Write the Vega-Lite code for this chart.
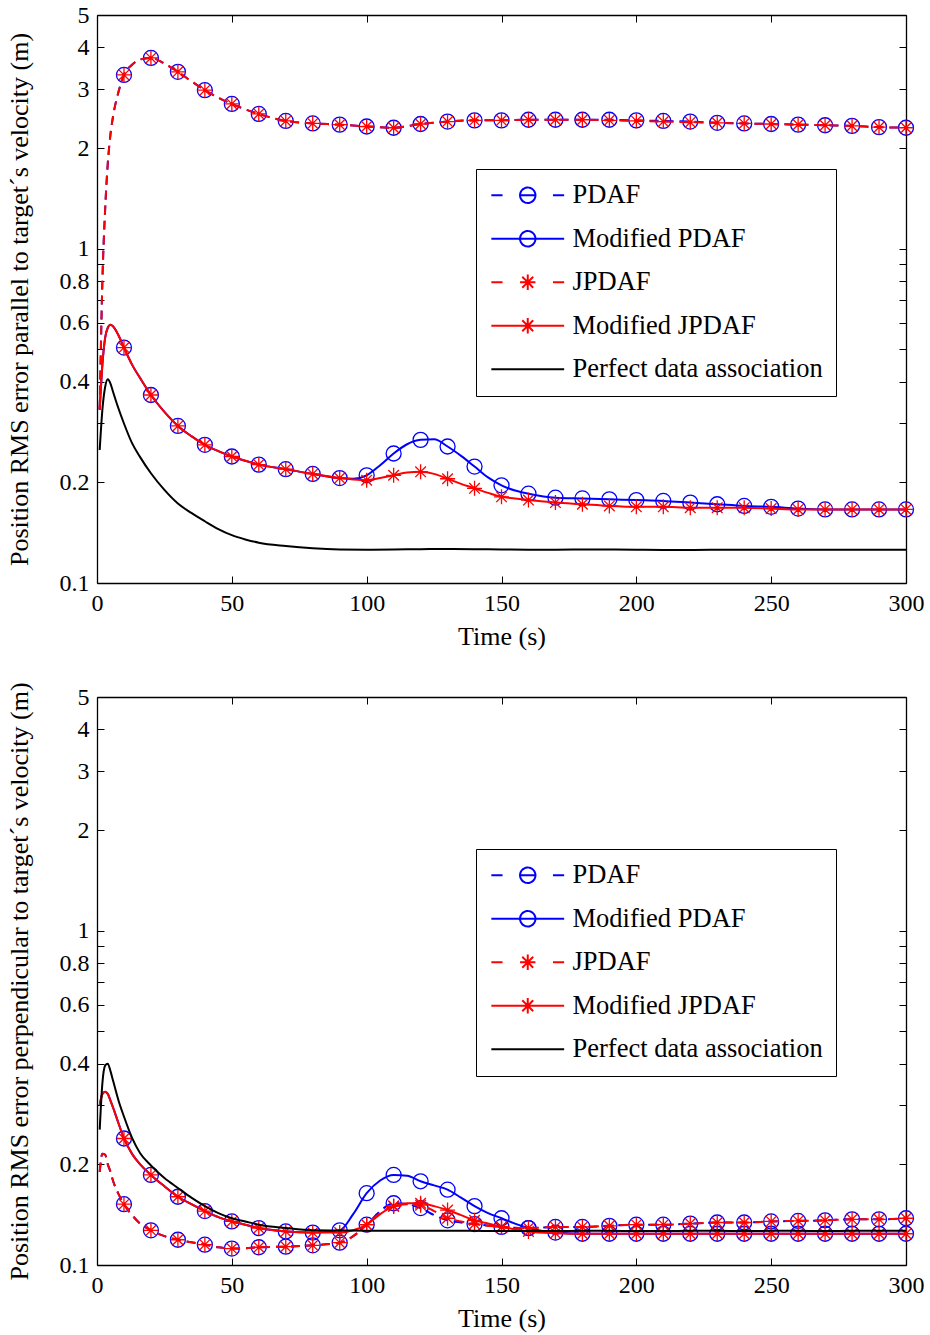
{
"$schema": "https://vega.github.io/schema/vega-lite/v6.json",
"padding": {"left": 6, "top": 3, "right": 5, "bottom": 5},
"spacing": 32,
"data": {"values": [
{"panel":"a","series":"PDAF","t":1,"rms":0.33},{"panel":"a","series":"PDAF","t":2,"rms":0.8},{"panel":"a","series":"PDAF","t":3,"rms":1.3},{"panel":"a","series":"PDAF","t":4,"rms":1.8},{"panel":"a","series":"PDAF","t":5,"rms":2.2},{"panel":"a","series":"PDAF","t":6,"rms":2.5},{"panel":"a","series":"PDAF","t":8,"rms":2.95},{"panel":"a","series":"PDAF","t":10,"rms":3.31},{"panel":"a","series":"PDAF","t":13,"rms":3.55},{"panel":"a","series":"PDAF","t":16,"rms":3.68},{"panel":"a","series":"PDAF","t":20,"rms":3.72},{"panel":"a","series":"PDAF","t":25,"rms":3.58},{"panel":"a","series":"PDAF","t":30,"rms":3.38},{"panel":"a","series":"PDAF","t":35,"rms":3.17},{"panel":"a","series":"PDAF","t":40,"rms":2.98},{"panel":"a","series":"PDAF","t":45,"rms":2.83},{"panel":"a","series":"PDAF","t":50,"rms":2.71},{"panel":"a","series":"PDAF","t":55,"rms":2.61},{"panel":"a","series":"PDAF","t":60,"rms":2.53},{"panel":"a","series":"PDAF","t":70,"rms":2.41},{"panel":"a","series":"PDAF","t":80,"rms":2.37},{"panel":"a","series":"PDAF","t":90,"rms":2.35},{"panel":"a","series":"PDAF","t":100,"rms":2.32},{"panel":"a","series":"PDAF","t":110,"rms":2.3},{"panel":"a","series":"PDAF","t":120,"rms":2.36},{"panel":"a","series":"PDAF","t":130,"rms":2.4},{"panel":"a","series":"PDAF","t":140,"rms":2.42},{"panel":"a","series":"PDAF","t":150,"rms":2.42},{"panel":"a","series":"PDAF","t":160,"rms":2.43},{"panel":"a","series":"PDAF","t":170,"rms":2.43},{"panel":"a","series":"PDAF","t":180,"rms":2.43},{"panel":"a","series":"PDAF","t":190,"rms":2.43},{"panel":"a","series":"PDAF","t":200,"rms":2.42},{"panel":"a","series":"PDAF","t":210,"rms":2.41},{"panel":"a","series":"PDAF","t":220,"rms":2.4},{"panel":"a","series":"PDAF","t":230,"rms":2.38},{"panel":"a","series":"PDAF","t":240,"rms":2.37},{"panel":"a","series":"PDAF","t":250,"rms":2.36},{"panel":"a","series":"PDAF","t":260,"rms":2.35},{"panel":"a","series":"PDAF","t":270,"rms":2.34},{"panel":"a","series":"PDAF","t":280,"rms":2.33},{"panel":"a","series":"PDAF","t":290,"rms":2.31},{"panel":"a","series":"PDAF","t":300,"rms":2.3},
{"panel":"a","series":"JPDAF","t":1,"rms":0.33},{"panel":"a","series":"JPDAF","t":2,"rms":0.8},{"panel":"a","series":"JPDAF","t":3,"rms":1.3},{"panel":"a","series":"JPDAF","t":4,"rms":1.8},{"panel":"a","series":"JPDAF","t":5,"rms":2.2},{"panel":"a","series":"JPDAF","t":6,"rms":2.5},{"panel":"a","series":"JPDAF","t":8,"rms":2.95},{"panel":"a","series":"JPDAF","t":10,"rms":3.31},{"panel":"a","series":"JPDAF","t":13,"rms":3.55},{"panel":"a","series":"JPDAF","t":16,"rms":3.68},{"panel":"a","series":"JPDAF","t":20,"rms":3.72},{"panel":"a","series":"JPDAF","t":25,"rms":3.58},{"panel":"a","series":"JPDAF","t":30,"rms":3.38},{"panel":"a","series":"JPDAF","t":35,"rms":3.17},{"panel":"a","series":"JPDAF","t":40,"rms":2.98},{"panel":"a","series":"JPDAF","t":45,"rms":2.83},{"panel":"a","series":"JPDAF","t":50,"rms":2.71},{"panel":"a","series":"JPDAF","t":55,"rms":2.61},{"panel":"a","series":"JPDAF","t":60,"rms":2.53},{"panel":"a","series":"JPDAF","t":70,"rms":2.41},{"panel":"a","series":"JPDAF","t":80,"rms":2.37},{"panel":"a","series":"JPDAF","t":90,"rms":2.35},{"panel":"a","series":"JPDAF","t":100,"rms":2.32},{"panel":"a","series":"JPDAF","t":110,"rms":2.3},{"panel":"a","series":"JPDAF","t":120,"rms":2.36},{"panel":"a","series":"JPDAF","t":130,"rms":2.4},{"panel":"a","series":"JPDAF","t":140,"rms":2.42},{"panel":"a","series":"JPDAF","t":150,"rms":2.42},{"panel":"a","series":"JPDAF","t":160,"rms":2.43},{"panel":"a","series":"JPDAF","t":170,"rms":2.43},{"panel":"a","series":"JPDAF","t":180,"rms":2.43},{"panel":"a","series":"JPDAF","t":190,"rms":2.42},{"panel":"a","series":"JPDAF","t":200,"rms":2.41},{"panel":"a","series":"JPDAF","t":210,"rms":2.4},{"panel":"a","series":"JPDAF","t":220,"rms":2.39},{"panel":"a","series":"JPDAF","t":230,"rms":2.38},{"panel":"a","series":"JPDAF","t":240,"rms":2.37},{"panel":"a","series":"JPDAF","t":250,"rms":2.36},{"panel":"a","series":"JPDAF","t":260,"rms":2.35},{"panel":"a","series":"JPDAF","t":270,"rms":2.34},{"panel":"a","series":"JPDAF","t":280,"rms":2.33},{"panel":"a","series":"JPDAF","t":290,"rms":2.31},{"panel":"a","series":"JPDAF","t":300,"rms":2.3},
{"panel":"a","series":"Modified PDAF","t":1,"rms":0.33},{"panel":"a","series":"Modified PDAF","t":2,"rms":0.45},{"panel":"a","series":"Modified PDAF","t":3,"rms":0.54},{"panel":"a","series":"Modified PDAF","t":4,"rms":0.58},{"panel":"a","series":"Modified PDAF","t":5,"rms":0.592},{"panel":"a","series":"Modified PDAF","t":6,"rms":0.585},{"panel":"a","series":"Modified PDAF","t":8,"rms":0.55},{"panel":"a","series":"Modified PDAF","t":10,"rms":0.506},{"panel":"a","series":"Modified PDAF","t":13,"rms":0.45},{"panel":"a","series":"Modified PDAF","t":16,"rms":0.41},{"panel":"a","series":"Modified PDAF","t":20,"rms":0.365},{"panel":"a","series":"Modified PDAF","t":25,"rms":0.325},{"panel":"a","series":"Modified PDAF","t":30,"rms":0.295},{"panel":"a","series":"Modified PDAF","t":35,"rms":0.275},{"panel":"a","series":"Modified PDAF","t":40,"rms":0.259},{"panel":"a","series":"Modified PDAF","t":45,"rms":0.248},{"panel":"a","series":"Modified PDAF","t":50,"rms":0.239},{"panel":"a","series":"Modified PDAF","t":55,"rms":0.232},{"panel":"a","series":"Modified PDAF","t":60,"rms":0.226},{"panel":"a","series":"Modified PDAF","t":70,"rms":0.219},{"panel":"a","series":"Modified PDAF","t":80,"rms":0.212},{"panel":"a","series":"Modified PDAF","t":90,"rms":0.206},{"panel":"a","series":"Modified PDAF","t":95,"rms":0.205},{"panel":"a","series":"Modified PDAF","t":100,"rms":0.21},{"panel":"a","series":"Modified PDAF","t":105,"rms":0.225},{"panel":"a","series":"Modified PDAF","t":110,"rms":0.244},{"panel":"a","series":"Modified PDAF","t":115,"rms":0.26},{"panel":"a","series":"Modified PDAF","t":120,"rms":0.268},{"panel":"a","series":"Modified PDAF","t":125,"rms":0.269},{"panel":"a","series":"Modified PDAF","t":130,"rms":0.256},{"panel":"a","series":"Modified PDAF","t":135,"rms":0.24},{"panel":"a","series":"Modified PDAF","t":140,"rms":0.223},{"panel":"a","series":"Modified PDAF","t":145,"rms":0.207},{"panel":"a","series":"Modified PDAF","t":150,"rms":0.196},{"panel":"a","series":"Modified PDAF","t":155,"rms":0.189},{"panel":"a","series":"Modified PDAF","t":160,"rms":0.185},{"panel":"a","series":"Modified PDAF","t":170,"rms":0.18},{"panel":"a","series":"Modified PDAF","t":180,"rms":0.179},{"panel":"a","series":"Modified PDAF","t":190,"rms":0.178},{"panel":"a","series":"Modified PDAF","t":200,"rms":0.177},{"panel":"a","series":"Modified PDAF","t":210,"rms":0.176},{"panel":"a","series":"Modified PDAF","t":220,"rms":0.174},{"panel":"a","series":"Modified PDAF","t":230,"rms":0.172},{"panel":"a","series":"Modified PDAF","t":240,"rms":0.17},{"panel":"a","series":"Modified PDAF","t":250,"rms":0.169},{"panel":"a","series":"Modified PDAF","t":260,"rms":0.167},{"panel":"a","series":"Modified PDAF","t":270,"rms":0.166},{"panel":"a","series":"Modified PDAF","t":280,"rms":0.166},{"panel":"a","series":"Modified PDAF","t":290,"rms":0.166},{"panel":"a","series":"Modified PDAF","t":300,"rms":0.166},
{"panel":"a","series":"Modified JPDAF","t":1,"rms":0.33},{"panel":"a","series":"Modified JPDAF","t":2,"rms":0.45},{"panel":"a","series":"Modified JPDAF","t":3,"rms":0.54},{"panel":"a","series":"Modified JPDAF","t":4,"rms":0.58},{"panel":"a","series":"Modified JPDAF","t":5,"rms":0.592},{"panel":"a","series":"Modified JPDAF","t":6,"rms":0.585},{"panel":"a","series":"Modified JPDAF","t":8,"rms":0.55},{"panel":"a","series":"Modified JPDAF","t":10,"rms":0.506},{"panel":"a","series":"Modified JPDAF","t":13,"rms":0.45},{"panel":"a","series":"Modified JPDAF","t":16,"rms":0.41},{"panel":"a","series":"Modified JPDAF","t":20,"rms":0.365},{"panel":"a","series":"Modified JPDAF","t":25,"rms":0.325},{"panel":"a","series":"Modified JPDAF","t":30,"rms":0.295},{"panel":"a","series":"Modified JPDAF","t":35,"rms":0.275},{"panel":"a","series":"Modified JPDAF","t":40,"rms":0.259},{"panel":"a","series":"Modified JPDAF","t":45,"rms":0.248},{"panel":"a","series":"Modified JPDAF","t":50,"rms":0.239},{"panel":"a","series":"Modified JPDAF","t":55,"rms":0.232},{"panel":"a","series":"Modified JPDAF","t":60,"rms":0.226},{"panel":"a","series":"Modified JPDAF","t":70,"rms":0.219},{"panel":"a","series":"Modified JPDAF","t":80,"rms":0.212},{"panel":"a","series":"Modified JPDAF","t":90,"rms":0.206},{"panel":"a","series":"Modified JPDAF","t":95,"rms":0.204},{"panel":"a","series":"Modified JPDAF","t":100,"rms":0.203},{"panel":"a","series":"Modified JPDAF","t":105,"rms":0.206},{"panel":"a","series":"Modified JPDAF","t":110,"rms":0.21},{"panel":"a","series":"Modified JPDAF","t":115,"rms":0.214},{"panel":"a","series":"Modified JPDAF","t":120,"rms":0.215},{"panel":"a","series":"Modified JPDAF","t":125,"rms":0.212},{"panel":"a","series":"Modified JPDAF","t":130,"rms":0.205},{"panel":"a","series":"Modified JPDAF","t":135,"rms":0.198},{"panel":"a","series":"Modified JPDAF","t":140,"rms":0.192},{"panel":"a","series":"Modified JPDAF","t":145,"rms":0.186},{"panel":"a","series":"Modified JPDAF","t":150,"rms":0.181},{"panel":"a","series":"Modified JPDAF","t":155,"rms":0.179},{"panel":"a","series":"Modified JPDAF","t":160,"rms":0.177},{"panel":"a","series":"Modified JPDAF","t":170,"rms":0.174},{"panel":"a","series":"Modified JPDAF","t":180,"rms":0.172},{"panel":"a","series":"Modified JPDAF","t":190,"rms":0.17},{"panel":"a","series":"Modified JPDAF","t":200,"rms":0.169},{"panel":"a","series":"Modified JPDAF","t":210,"rms":0.169},{"panel":"a","series":"Modified JPDAF","t":220,"rms":0.168},{"panel":"a","series":"Modified JPDAF","t":230,"rms":0.168},{"panel":"a","series":"Modified JPDAF","t":240,"rms":0.168},{"panel":"a","series":"Modified JPDAF","t":250,"rms":0.167},{"panel":"a","series":"Modified JPDAF","t":260,"rms":0.166},{"panel":"a","series":"Modified JPDAF","t":270,"rms":0.166},{"panel":"a","series":"Modified JPDAF","t":280,"rms":0.166},{"panel":"a","series":"Modified JPDAF","t":290,"rms":0.166},{"panel":"a","series":"Modified JPDAF","t":300,"rms":0.166},
{"panel":"a","series":"Perfect data association","t":1,"rms":0.25},{"panel":"a","series":"Perfect data association","t":2,"rms":0.33},{"panel":"a","series":"Perfect data association","t":3,"rms":0.385},{"panel":"a","series":"Perfect data association","t":4,"rms":0.407},{"panel":"a","series":"Perfect data association","t":5,"rms":0.395},{"panel":"a","series":"Perfect data association","t":6,"rms":0.372},{"panel":"a","series":"Perfect data association","t":8,"rms":0.332},{"panel":"a","series":"Perfect data association","t":10,"rms":0.3},{"panel":"a","series":"Perfect data association","t":13,"rms":0.262},{"panel":"a","series":"Perfect data association","t":16,"rms":0.238},{"panel":"a","series":"Perfect data association","t":20,"rms":0.213},{"panel":"a","series":"Perfect data association","t":25,"rms":0.19},{"panel":"a","series":"Perfect data association","t":30,"rms":0.173},{"panel":"a","series":"Perfect data association","t":35,"rms":0.162},{"panel":"a","series":"Perfect data association","t":40,"rms":0.153},{"panel":"a","series":"Perfect data association","t":45,"rms":0.145},{"panel":"a","series":"Perfect data association","t":50,"rms":0.139},{"panel":"a","series":"Perfect data association","t":55,"rms":0.135},{"panel":"a","series":"Perfect data association","t":60,"rms":0.132},{"panel":"a","series":"Perfect data association","t":70,"rms":0.129},{"panel":"a","series":"Perfect data association","t":80,"rms":0.127},{"panel":"a","series":"Perfect data association","t":90,"rms":0.126},{"panel":"a","series":"Perfect data association","t":100,"rms":0.1258},{"panel":"a","series":"Perfect data association","t":110,"rms":0.126},{"panel":"a","series":"Perfect data association","t":120,"rms":0.1262},{"panel":"a","series":"Perfect data association","t":130,"rms":0.1264},{"panel":"a","series":"Perfect data association","t":140,"rms":0.1262},{"panel":"a","series":"Perfect data association","t":150,"rms":0.126},{"panel":"a","series":"Perfect data association","t":160,"rms":0.1258},{"panel":"a","series":"Perfect data association","t":170,"rms":0.1258},{"panel":"a","series":"Perfect data association","t":180,"rms":0.1259},{"panel":"a","series":"Perfect data association","t":190,"rms":0.126},{"panel":"a","series":"Perfect data association","t":200,"rms":0.1258},{"panel":"a","series":"Perfect data association","t":210,"rms":0.1256},{"panel":"a","series":"Perfect data association","t":220,"rms":0.1255},{"panel":"a","series":"Perfect data association","t":230,"rms":0.1257},{"panel":"a","series":"Perfect data association","t":240,"rms":0.1258},{"panel":"a","series":"Perfect data association","t":250,"rms":0.1257},{"panel":"a","series":"Perfect data association","t":260,"rms":0.1258},{"panel":"a","series":"Perfect data association","t":270,"rms":0.1257},{"panel":"a","series":"Perfect data association","t":280,"rms":0.1258},{"panel":"a","series":"Perfect data association","t":290,"rms":0.1258},{"panel":"a","series":"Perfect data association","t":300,"rms":0.1258},
{"panel":"b","series":"PDAF","t":1,"rms":0.19},{"panel":"b","series":"PDAF","t":2,"rms":0.215},{"panel":"b","series":"PDAF","t":3,"rms":0.214},{"panel":"b","series":"PDAF","t":4,"rms":0.2},{"panel":"b","series":"PDAF","t":5,"rms":0.19},{"panel":"b","series":"PDAF","t":6,"rms":0.178},{"panel":"b","series":"PDAF","t":8,"rms":0.163},{"panel":"b","series":"PDAF","t":10,"rms":0.152},{"panel":"b","series":"PDAF","t":13,"rms":0.141},{"panel":"b","series":"PDAF","t":16,"rms":0.133},{"panel":"b","series":"PDAF","t":20,"rms":0.127},{"panel":"b","series":"PDAF","t":25,"rms":0.122},{"panel":"b","series":"PDAF","t":30,"rms":0.119},{"panel":"b","series":"PDAF","t":35,"rms":0.117},{"panel":"b","series":"PDAF","t":40,"rms":0.115},{"panel":"b","series":"PDAF","t":45,"rms":0.113},{"panel":"b","series":"PDAF","t":50,"rms":0.112},{"panel":"b","series":"PDAF","t":55,"rms":0.1122},{"panel":"b","series":"PDAF","t":60,"rms":0.113},{"panel":"b","series":"PDAF","t":70,"rms":0.1135},{"panel":"b","series":"PDAF","t":80,"rms":0.1145},{"panel":"b","series":"PDAF","t":90,"rms":0.1166},{"panel":"b","series":"PDAF","t":95,"rms":0.122},{"panel":"b","series":"PDAF","t":100,"rms":0.132},{"panel":"b","series":"PDAF","t":105,"rms":0.145},{"panel":"b","series":"PDAF","t":110,"rms":0.153},{"panel":"b","series":"PDAF","t":115,"rms":0.152},{"panel":"b","series":"PDAF","t":120,"rms":0.148},{"panel":"b","series":"PDAF","t":125,"rms":0.141},{"panel":"b","series":"PDAF","t":130,"rms":0.136},{"panel":"b","series":"PDAF","t":135,"rms":0.134},{"panel":"b","series":"PDAF","t":140,"rms":0.1326},{"panel":"b","series":"PDAF","t":150,"rms":0.13},{"panel":"b","series":"PDAF","t":160,"rms":0.129},{"panel":"b","series":"PDAF","t":170,"rms":0.13},{"panel":"b","series":"PDAF","t":180,"rms":0.13},{"panel":"b","series":"PDAF","t":190,"rms":0.131},{"panel":"b","series":"PDAF","t":200,"rms":0.132},{"panel":"b","series":"PDAF","t":210,"rms":0.132},{"panel":"b","series":"PDAF","t":220,"rms":0.133},{"panel":"b","series":"PDAF","t":230,"rms":0.134},{"panel":"b","series":"PDAF","t":240,"rms":0.134},{"panel":"b","series":"PDAF","t":250,"rms":0.135},{"panel":"b","series":"PDAF","t":260,"rms":0.1355},{"panel":"b","series":"PDAF","t":270,"rms":0.136},{"panel":"b","series":"PDAF","t":280,"rms":0.137},{"panel":"b","series":"PDAF","t":290,"rms":0.137},{"panel":"b","series":"PDAF","t":300,"rms":0.138},
{"panel":"b","series":"JPDAF","t":1,"rms":0.19},{"panel":"b","series":"JPDAF","t":2,"rms":0.215},{"panel":"b","series":"JPDAF","t":3,"rms":0.214},{"panel":"b","series":"JPDAF","t":4,"rms":0.2},{"panel":"b","series":"JPDAF","t":5,"rms":0.19},{"panel":"b","series":"JPDAF","t":6,"rms":0.178},{"panel":"b","series":"JPDAF","t":8,"rms":0.163},{"panel":"b","series":"JPDAF","t":10,"rms":0.152},{"panel":"b","series":"JPDAF","t":13,"rms":0.141},{"panel":"b","series":"JPDAF","t":16,"rms":0.133},{"panel":"b","series":"JPDAF","t":20,"rms":0.127},{"panel":"b","series":"JPDAF","t":25,"rms":0.122},{"panel":"b","series":"JPDAF","t":30,"rms":0.119},{"panel":"b","series":"JPDAF","t":35,"rms":0.117},{"panel":"b","series":"JPDAF","t":40,"rms":0.115},{"panel":"b","series":"JPDAF","t":45,"rms":0.113},{"panel":"b","series":"JPDAF","t":50,"rms":0.112},{"panel":"b","series":"JPDAF","t":55,"rms":0.1122},{"panel":"b","series":"JPDAF","t":60,"rms":0.113},{"panel":"b","series":"JPDAF","t":70,"rms":0.1135},{"panel":"b","series":"JPDAF","t":80,"rms":0.1145},{"panel":"b","series":"JPDAF","t":90,"rms":0.1166},{"panel":"b","series":"JPDAF","t":95,"rms":0.122},{"panel":"b","series":"JPDAF","t":100,"rms":0.132},{"panel":"b","series":"JPDAF","t":105,"rms":0.143},{"panel":"b","series":"JPDAF","t":110,"rms":0.15},{"panel":"b","series":"JPDAF","t":115,"rms":0.152},{"panel":"b","series":"JPDAF","t":120,"rms":0.151},{"panel":"b","series":"JPDAF","t":125,"rms":0.145},{"panel":"b","series":"JPDAF","t":130,"rms":0.138},{"panel":"b","series":"JPDAF","t":135,"rms":0.135},{"panel":"b","series":"JPDAF","t":140,"rms":0.1326},{"panel":"b","series":"JPDAF","t":150,"rms":0.13},{"panel":"b","series":"JPDAF","t":160,"rms":0.129},{"panel":"b","series":"JPDAF","t":170,"rms":0.13},{"panel":"b","series":"JPDAF","t":180,"rms":0.13},{"panel":"b","series":"JPDAF","t":190,"rms":0.131},{"panel":"b","series":"JPDAF","t":200,"rms":0.132},{"panel":"b","series":"JPDAF","t":210,"rms":0.132},{"panel":"b","series":"JPDAF","t":220,"rms":0.133},{"panel":"b","series":"JPDAF","t":230,"rms":0.134},{"panel":"b","series":"JPDAF","t":240,"rms":0.134},{"panel":"b","series":"JPDAF","t":250,"rms":0.135},{"panel":"b","series":"JPDAF","t":260,"rms":0.1355},{"panel":"b","series":"JPDAF","t":270,"rms":0.136},{"panel":"b","series":"JPDAF","t":280,"rms":0.137},{"panel":"b","series":"JPDAF","t":290,"rms":0.137},{"panel":"b","series":"JPDAF","t":300,"rms":0.138},
{"panel":"b","series":"Modified PDAF","t":1,"rms":0.3},{"panel":"b","series":"Modified PDAF","t":2,"rms":0.325},{"panel":"b","series":"Modified PDAF","t":3,"rms":0.33},{"panel":"b","series":"Modified PDAF","t":4,"rms":0.325},{"panel":"b","series":"Modified PDAF","t":5,"rms":0.31},{"panel":"b","series":"Modified PDAF","t":6,"rms":0.295},{"panel":"b","series":"Modified PDAF","t":8,"rms":0.265},{"panel":"b","series":"Modified PDAF","t":10,"rms":0.239},{"panel":"b","series":"Modified PDAF","t":13,"rms":0.215},{"panel":"b","series":"Modified PDAF","t":16,"rms":0.2},{"panel":"b","series":"Modified PDAF","t":20,"rms":0.186},{"panel":"b","series":"Modified PDAF","t":25,"rms":0.172},{"panel":"b","series":"Modified PDAF","t":30,"rms":0.16},{"panel":"b","series":"Modified PDAF","t":35,"rms":0.152},{"panel":"b","series":"Modified PDAF","t":40,"rms":0.145},{"panel":"b","series":"Modified PDAF","t":45,"rms":0.139},{"panel":"b","series":"Modified PDAF","t":50,"rms":0.135},{"panel":"b","series":"Modified PDAF","t":55,"rms":0.132},{"panel":"b","series":"Modified PDAF","t":60,"rms":0.129},{"panel":"b","series":"Modified PDAF","t":70,"rms":0.126},{"panel":"b","series":"Modified PDAF","t":80,"rms":0.125},{"panel":"b","series":"Modified PDAF","t":90,"rms":0.127},{"panel":"b","series":"Modified PDAF","t":95,"rms":0.142},{"panel":"b","series":"Modified PDAF","t":100,"rms":0.164},{"panel":"b","series":"Modified PDAF","t":105,"rms":0.179},{"panel":"b","series":"Modified PDAF","t":110,"rms":0.186},{"panel":"b","series":"Modified PDAF","t":115,"rms":0.185},{"panel":"b","series":"Modified PDAF","t":120,"rms":0.178},{"panel":"b","series":"Modified PDAF","t":125,"rms":0.173},{"panel":"b","series":"Modified PDAF","t":130,"rms":0.168},{"panel":"b","series":"Modified PDAF","t":135,"rms":0.159},{"panel":"b","series":"Modified PDAF","t":140,"rms":0.15},{"panel":"b","series":"Modified PDAF","t":145,"rms":0.143},{"panel":"b","series":"Modified PDAF","t":150,"rms":0.138},{"panel":"b","series":"Modified PDAF","t":155,"rms":0.133},{"panel":"b","series":"Modified PDAF","t":160,"rms":0.129},{"panel":"b","series":"Modified PDAF","t":170,"rms":0.125},{"panel":"b","series":"Modified PDAF","t":180,"rms":0.124},{"panel":"b","series":"Modified PDAF","t":190,"rms":0.124},{"panel":"b","series":"Modified PDAF","t":200,"rms":0.124},{"panel":"b","series":"Modified PDAF","t":210,"rms":0.124},{"panel":"b","series":"Modified PDAF","t":220,"rms":0.124},{"panel":"b","series":"Modified PDAF","t":230,"rms":0.124},{"panel":"b","series":"Modified PDAF","t":240,"rms":0.124},{"panel":"b","series":"Modified PDAF","t":250,"rms":0.124},{"panel":"b","series":"Modified PDAF","t":260,"rms":0.124},{"panel":"b","series":"Modified PDAF","t":270,"rms":0.124},{"panel":"b","series":"Modified PDAF","t":280,"rms":0.124},{"panel":"b","series":"Modified PDAF","t":290,"rms":0.124},{"panel":"b","series":"Modified PDAF","t":300,"rms":0.124},
{"panel":"b","series":"Modified JPDAF","t":1,"rms":0.3},{"panel":"b","series":"Modified JPDAF","t":2,"rms":0.325},{"panel":"b","series":"Modified JPDAF","t":3,"rms":0.33},{"panel":"b","series":"Modified JPDAF","t":4,"rms":0.325},{"panel":"b","series":"Modified JPDAF","t":5,"rms":0.31},{"panel":"b","series":"Modified JPDAF","t":6,"rms":0.295},{"panel":"b","series":"Modified JPDAF","t":8,"rms":0.265},{"panel":"b","series":"Modified JPDAF","t":10,"rms":0.239},{"panel":"b","series":"Modified JPDAF","t":13,"rms":0.215},{"panel":"b","series":"Modified JPDAF","t":16,"rms":0.2},{"panel":"b","series":"Modified JPDAF","t":20,"rms":0.186},{"panel":"b","series":"Modified JPDAF","t":25,"rms":0.172},{"panel":"b","series":"Modified JPDAF","t":30,"rms":0.16},{"panel":"b","series":"Modified JPDAF","t":35,"rms":0.152},{"panel":"b","series":"Modified JPDAF","t":40,"rms":0.145},{"panel":"b","series":"Modified JPDAF","t":45,"rms":0.139},{"panel":"b","series":"Modified JPDAF","t":50,"rms":0.135},{"panel":"b","series":"Modified JPDAF","t":55,"rms":0.132},{"panel":"b","series":"Modified JPDAF","t":60,"rms":0.129},{"panel":"b","series":"Modified JPDAF","t":70,"rms":0.126},{"panel":"b","series":"Modified JPDAF","t":80,"rms":0.125},{"panel":"b","series":"Modified JPDAF","t":90,"rms":0.125},{"panel":"b","series":"Modified JPDAF","t":95,"rms":0.127},{"panel":"b","series":"Modified JPDAF","t":100,"rms":0.132},{"panel":"b","series":"Modified JPDAF","t":105,"rms":0.142},{"panel":"b","series":"Modified JPDAF","t":110,"rms":0.15},{"panel":"b","series":"Modified JPDAF","t":115,"rms":0.153},{"panel":"b","series":"Modified JPDAF","t":120,"rms":0.153},{"panel":"b","series":"Modified JPDAF","t":125,"rms":0.15},{"panel":"b","series":"Modified JPDAF","t":130,"rms":0.146},{"panel":"b","series":"Modified JPDAF","t":135,"rms":0.141},{"panel":"b","series":"Modified JPDAF","t":140,"rms":0.136},{"panel":"b","series":"Modified JPDAF","t":145,"rms":0.133},{"panel":"b","series":"Modified JPDAF","t":150,"rms":0.13},{"panel":"b","series":"Modified JPDAF","t":155,"rms":0.128},{"panel":"b","series":"Modified JPDAF","t":160,"rms":0.126},{"panel":"b","series":"Modified JPDAF","t":170,"rms":0.1245},{"panel":"b","series":"Modified JPDAF","t":180,"rms":0.124},{"panel":"b","series":"Modified JPDAF","t":190,"rms":0.124},{"panel":"b","series":"Modified JPDAF","t":200,"rms":0.124},{"panel":"b","series":"Modified JPDAF","t":210,"rms":0.124},{"panel":"b","series":"Modified JPDAF","t":220,"rms":0.124},{"panel":"b","series":"Modified JPDAF","t":230,"rms":0.124},{"panel":"b","series":"Modified JPDAF","t":240,"rms":0.124},{"panel":"b","series":"Modified JPDAF","t":250,"rms":0.124},{"panel":"b","series":"Modified JPDAF","t":260,"rms":0.124},{"panel":"b","series":"Modified JPDAF","t":270,"rms":0.124},{"panel":"b","series":"Modified JPDAF","t":280,"rms":0.124},{"panel":"b","series":"Modified JPDAF","t":290,"rms":0.124},{"panel":"b","series":"Modified JPDAF","t":300,"rms":0.124},
{"panel":"b","series":"Perfect data association","t":1,"rms":0.254},{"panel":"b","series":"Perfect data association","t":2,"rms":0.35},{"panel":"b","series":"Perfect data association","t":3,"rms":0.395},{"panel":"b","series":"Perfect data association","t":4,"rms":0.4},{"panel":"b","series":"Perfect data association","t":5,"rms":0.38},{"panel":"b","series":"Perfect data association","t":6,"rms":0.355},{"panel":"b","series":"Perfect data association","t":8,"rms":0.31},{"panel":"b","series":"Perfect data association","t":10,"rms":0.278},{"panel":"b","series":"Perfect data association","t":13,"rms":0.24},{"panel":"b","series":"Perfect data association","t":16,"rms":0.216},{"panel":"b","series":"Perfect data association","t":20,"rms":0.1985},{"panel":"b","series":"Perfect data association","t":25,"rms":0.182},{"panel":"b","series":"Perfect data association","t":30,"rms":0.17},{"panel":"b","series":"Perfect data association","t":35,"rms":0.159},{"panel":"b","series":"Perfect data association","t":40,"rms":0.15},{"panel":"b","series":"Perfect data association","t":45,"rms":0.143},{"panel":"b","series":"Perfect data association","t":50,"rms":0.138},{"panel":"b","series":"Perfect data association","t":55,"rms":0.135},{"panel":"b","series":"Perfect data association","t":60,"rms":0.132},{"panel":"b","series":"Perfect data association","t":70,"rms":0.129},{"panel":"b","series":"Perfect data association","t":80,"rms":0.127},{"panel":"b","series":"Perfect data association","t":90,"rms":0.1268},{"panel":"b","series":"Perfect data association","t":100,"rms":0.1266},{"panel":"b","series":"Perfect data association","t":110,"rms":0.1265},{"panel":"b","series":"Perfect data association","t":120,"rms":0.1266},{"panel":"b","series":"Perfect data association","t":130,"rms":0.1266},{"panel":"b","series":"Perfect data association","t":140,"rms":0.1265},{"panel":"b","series":"Perfect data association","t":150,"rms":0.1264},{"panel":"b","series":"Perfect data association","t":160,"rms":0.1264},{"panel":"b","series":"Perfect data association","t":170,"rms":0.1264},{"panel":"b","series":"Perfect data association","t":180,"rms":0.1265},{"panel":"b","series":"Perfect data association","t":190,"rms":0.1265},{"panel":"b","series":"Perfect data association","t":200,"rms":0.1264},{"panel":"b","series":"Perfect data association","t":210,"rms":0.1264},{"panel":"b","series":"Perfect data association","t":220,"rms":0.1265},{"panel":"b","series":"Perfect data association","t":230,"rms":0.1265},{"panel":"b","series":"Perfect data association","t":240,"rms":0.1264},{"panel":"b","series":"Perfect data association","t":250,"rms":0.1265},{"panel":"b","series":"Perfect data association","t":260,"rms":0.1265},{"panel":"b","series":"Perfect data association","t":270,"rms":0.1264},{"panel":"b","series":"Perfect data association","t":280,"rms":0.1265},{"panel":"b","series":"Perfect data association","t":290,"rms":0.1265},{"panel":"b","series":"Perfect data association","t":300,"rms":0.1265}
]},
"vconcat": [
{
 "width": 809, "height": 568,
 "transform": [{"filter": "datum.panel == 'a'"}],
 "encoding": {
  "x": {"field": "t", "type": "quantitative", "scale": {"domain": [0, 300], "nice": false, "zero": false}, "axis": null},
  "y": {"field": "rms", "type": "quantitative", "scale": {"type": "log", "domain": [0.1, 5], "nice": false}, "axis": null},
  "color": {"field": "series", "type": "nominal",
   "scale": {"domain": ["PDAF", "Modified PDAF", "JPDAF", "Modified JPDAF", "Perfect data association"], "range": ["#0000ff", "#0000ff", "#ff0000", "#ff0000", "#000000"]},
   "legend": {"orient": "none", "legendX": 379, "legendY": 154, "title": null, "strokeColor": "black", "fillColor": "white", "padding": 13,
    "symbolSize": 196, "symbolStrokeWidth": 2, "symbolOffset": 25.5, "labelOffset": 31.5, "rowPadding": 16.5,
    "labelFont": "Liberation Serif", "labelFontSize": 26.5, "labelColor": "black", "labelLimit": 400,
    "encode": {"symbols": {"update": {
      "shape": {"signal": "datum.value == 'PDAF' ? 'M-5.2,0H-3.6M3.6,0H5.2M-1.1,0H1.1M-1.1,0A1.1,1.1 0 1,0 1.1,0A1.1,1.1 0 1,0 -1.1,0' : datum.value == 'Modified PDAF' ? 'M-5.2,0H5.2M-1.1,0A1.1,1.1 0 1,0 1.1,0A1.1,1.1 0 1,0 -1.1,0' : datum.value == 'JPDAF' ? 'M-5.2,0H-3.6M3.6,0H5.2M-1.1,0H1.1M0,-1.1V1.1M-0.78,-0.78L0.78,0.78M-0.78,0.78L0.78,-0.78' : datum.value == 'Modified JPDAF' ? 'M-5.2,0H5.2M0,-1.1V1.1M-0.78,-0.78L0.78,0.78M-0.78,0.78L0.78,-0.78' : 'M-5.2,0H5.2'"},
      "fill": {"value": "transparent"},
      "strokeDash": {"value": [1, 0]},
      "opacity": {"value": 1}
    }}}
   }
  }
 },
 "layer": [
  {"transform": [{"filter": "datum.series == 'PDAF'"}],
   "mark": {"type": "line", "strokeDash": [9, 6], "strokeWidth": 2, "interpolate": "monotone"},
   "encoding": {
    "x": {"field": "t", "type": "quantitative", "scale": {"domain": [0, 300], "nice": false, "zero": false},
     "axis": {"orient": "bottom", "values": [0, 50, 100, 150, 200, 250, 300], "title": "Time (s)", "tickSize": -7, "labelPadding": 15, "titlePadding": 8, "labelFlush": false, "labelOverlap": false, "format": "d"}},
    "y": {"field": "rms", "type": "quantitative", "scale": {"type": "log", "domain": [0.1, 5], "nice": false},
     "axis": {"orient": "left", "values": [0.1, 0.2, 0.3, 0.4, 0.5, 0.6, 0.7, 0.8, 0.9, 1, 2, 3, 4, 5], "labelExpr": "(datum.value == 0.3 || datum.value == 0.5 || datum.value == 0.7 || datum.value == 0.9) ? '' : format(datum.value, '~g')", "title": "Position RMS error parallel to target´s velocity (m)", "tickSize": -7, "labelPadding": 15, "titlePadding": 27, "labelOverlap": false, "labelFlush": false}}
   }},
  {"transform": [{"filter": "datum.series == 'PDAF' && datum.t % 10 == 0"}],
   "mark": {"type": "point", "shape": "circle", "size": 225, "filled": false, "strokeWidth": 1.3, "opacity": 1}},
  {"transform": [{"filter": "datum.series == 'Modified PDAF'"}],
   "mark": {"type": "line", "strokeWidth": 2, "interpolate": "monotone"}},
  {"transform": [{"filter": "datum.series == 'Modified PDAF' && datum.t % 10 == 0"}],
   "mark": {"type": "point", "shape": "circle", "size": 225, "filled": false, "strokeWidth": 1.3, "opacity": 1}},
  {"transform": [{"filter": "datum.series == 'JPDAF'"}],
   "mark": {"type": "line", "strokeDash": [9, 6], "strokeWidth": 2, "interpolate": "monotone"}},
  {"transform": [{"filter": "datum.series == 'JPDAF' && datum.t % 10 == 0"}],
   "mark": {"type": "point", "shape": "M-1,0H1M0,-1V1M-0.707,-0.707L0.707,0.707M-0.707,0.707L0.707,-0.707", "size": 225, "filled": false, "strokeWidth": 1.3, "opacity": 1}},
  {"transform": [{"filter": "datum.series == 'Modified JPDAF'"}],
   "mark": {"type": "line", "strokeWidth": 2, "interpolate": "monotone"}},
  {"transform": [{"filter": "datum.series == 'Modified JPDAF' && datum.t % 10 == 0"}],
   "mark": {"type": "point", "shape": "M-1,0H1M0,-1V1M-0.707,-0.707L0.707,0.707M-0.707,0.707L0.707,-0.707", "size": 225, "filled": false, "strokeWidth": 1.3, "opacity": 1}},
  {"transform": [{"filter": "datum.series == 'Perfect data association'"}],
   "mark": {"type": "line", "strokeWidth": 2, "interpolate": "monotone"},
   "encoding": {
    "x": {"field": "t", "type": "quantitative", "scale": {"domain": [0, 300], "nice": false, "zero": false},
     "axis": {"orient": "top", "values": [0, 50, 100, 150, 200, 250, 300], "title": null, "labels": false, "tickSize": -7}},
    "y": {"field": "rms", "type": "quantitative", "scale": {"type": "log", "domain": [0.1, 5], "nice": false},
     "axis": {"orient": "right", "values": [0.1, 0.2, 0.3, 0.4, 0.5, 0.6, 0.7, 0.8, 0.9, 1, 2, 3, 4, 5], "title": null, "labels": false, "tickSize": -7}}
   }}
 ],
 "resolve": {"axis": {"x": "independent", "y": "independent"}}
},
{
 "width": 809, "height": 568,
 "transform": [{"filter": "datum.panel == 'b'"}],
 "encoding": {
  "x": {"field": "t", "type": "quantitative", "scale": {"domain": [0, 300], "nice": false, "zero": false}, "axis": null},
  "y": {"field": "rms", "type": "quantitative", "scale": {"type": "log", "domain": [0.1, 5], "nice": false}, "axis": null},
  "color": {"field": "series", "type": "nominal",
   "scale": {"domain": ["PDAF", "Modified PDAF", "JPDAF", "Modified JPDAF", "Perfect data association"], "range": ["#0000ff", "#0000ff", "#ff0000", "#ff0000", "#000000"]},
   "legend": {"orient": "none", "legendX": 379, "legendY": 152, "title": null, "strokeColor": "black", "fillColor": "white", "padding": 13,
    "symbolSize": 196, "symbolStrokeWidth": 2, "symbolOffset": 25.5, "labelOffset": 31.5, "rowPadding": 16.5,
    "labelFont": "Liberation Serif", "labelFontSize": 26.5, "labelColor": "black", "labelLimit": 400,
    "encode": {"symbols": {"update": {
      "shape": {"signal": "datum.value == 'PDAF' ? 'M-5.2,0H-3.6M3.6,0H5.2M-1.1,0H1.1M-1.1,0A1.1,1.1 0 1,0 1.1,0A1.1,1.1 0 1,0 -1.1,0' : datum.value == 'Modified PDAF' ? 'M-5.2,0H5.2M-1.1,0A1.1,1.1 0 1,0 1.1,0A1.1,1.1 0 1,0 -1.1,0' : datum.value == 'JPDAF' ? 'M-5.2,0H-3.6M3.6,0H5.2M-1.1,0H1.1M0,-1.1V1.1M-0.78,-0.78L0.78,0.78M-0.78,0.78L0.78,-0.78' : datum.value == 'Modified JPDAF' ? 'M-5.2,0H5.2M0,-1.1V1.1M-0.78,-0.78L0.78,0.78M-0.78,0.78L0.78,-0.78' : 'M-5.2,0H5.2'"},
      "fill": {"value": "transparent"},
      "strokeDash": {"value": [1, 0]},
      "opacity": {"value": 1}
    }}}
   }
  }
 },
 "layer": [
  {"transform": [{"filter": "datum.series == 'PDAF'"}],
   "mark": {"type": "line", "strokeDash": [9, 6], "strokeWidth": 2, "interpolate": "monotone"},
   "encoding": {
    "x": {"field": "t", "type": "quantitative", "scale": {"domain": [0, 300], "nice": false, "zero": false},
     "axis": {"orient": "bottom", "values": [0, 50, 100, 150, 200, 250, 300], "title": "Time (s)", "tickSize": -7, "labelPadding": 15, "titlePadding": 8, "labelFlush": false, "labelOverlap": false, "format": "d"}},
    "y": {"field": "rms", "type": "quantitative", "scale": {"type": "log", "domain": [0.1, 5], "nice": false},
     "axis": {"orient": "left", "values": [0.1, 0.2, 0.3, 0.4, 0.5, 0.6, 0.7, 0.8, 0.9, 1, 2, 3, 4, 5], "labelExpr": "(datum.value == 0.3 || datum.value == 0.5 || datum.value == 0.7 || datum.value == 0.9) ? '' : format(datum.value, '~g')", "title": "Position RMS error perpendicular to target´s velocity (m)", "tickSize": -7, "labelPadding": 15, "titlePadding": 27, "labelOverlap": false, "labelFlush": false}}
   }},
  {"transform": [{"filter": "datum.series == 'PDAF' && datum.t % 10 == 0"}],
   "mark": {"type": "point", "shape": "circle", "size": 225, "filled": false, "strokeWidth": 1.3, "opacity": 1}},
  {"transform": [{"filter": "datum.series == 'Modified PDAF'"}],
   "mark": {"type": "line", "strokeWidth": 2, "interpolate": "monotone"}},
  {"transform": [{"filter": "datum.series == 'Modified PDAF' && datum.t % 10 == 0"}],
   "mark": {"type": "point", "shape": "circle", "size": 225, "filled": false, "strokeWidth": 1.3, "opacity": 1}},
  {"transform": [{"filter": "datum.series == 'JPDAF'"}],
   "mark": {"type": "line", "strokeDash": [9, 6], "strokeWidth": 2, "interpolate": "monotone"}},
  {"transform": [{"filter": "datum.series == 'JPDAF' && datum.t % 10 == 0"}],
   "mark": {"type": "point", "shape": "M-1,0H1M0,-1V1M-0.707,-0.707L0.707,0.707M-0.707,0.707L0.707,-0.707", "size": 225, "filled": false, "strokeWidth": 1.3, "opacity": 1}},
  {"transform": [{"filter": "datum.series == 'Modified JPDAF'"}],
   "mark": {"type": "line", "strokeWidth": 2, "interpolate": "monotone"}},
  {"transform": [{"filter": "datum.series == 'Modified JPDAF' && datum.t % 10 == 0"}],
   "mark": {"type": "point", "shape": "M-1,0H1M0,-1V1M-0.707,-0.707L0.707,0.707M-0.707,0.707L0.707,-0.707", "size": 225, "filled": false, "strokeWidth": 1.3, "opacity": 1}},
  {"transform": [{"filter": "datum.series == 'Perfect data association'"}],
   "mark": {"type": "line", "strokeWidth": 2, "interpolate": "monotone"},
   "encoding": {
    "x": {"field": "t", "type": "quantitative", "scale": {"domain": [0, 300], "nice": false, "zero": false},
     "axis": {"orient": "top", "values": [0, 50, 100, 150, 200, 250, 300], "title": null, "labels": false, "tickSize": -7}},
    "y": {"field": "rms", "type": "quantitative", "scale": {"type": "log", "domain": [0.1, 5], "nice": false},
     "axis": {"orient": "right", "values": [0.1, 0.2, 0.3, 0.4, 0.5, 0.6, 0.7, 0.8, 0.9, 1, 2, 3, 4, 5], "title": null, "labels": false, "tickSize": -7}}
   }}
 ],
 "resolve": {"axis": {"x": "independent", "y": "independent"}}
}
],
"resolve": {"scale": {"color": "independent"}, "legend": {"color": "independent"}},
"config": {
 "view": {"stroke": null},
 "font": "Liberation Serif",
 "axis": {"domainColor": "black", "domainWidth": 1.3, "tickColor": "black", "tickWidth": 1, "labelFont": "Liberation Serif", "labelFontSize": 24, "labelColor": "black", "titleFont": "Liberation Serif", "titleFontSize": 26, "titleFontWeight": "normal", "titleColor": "black", "grid": false}
}
}
